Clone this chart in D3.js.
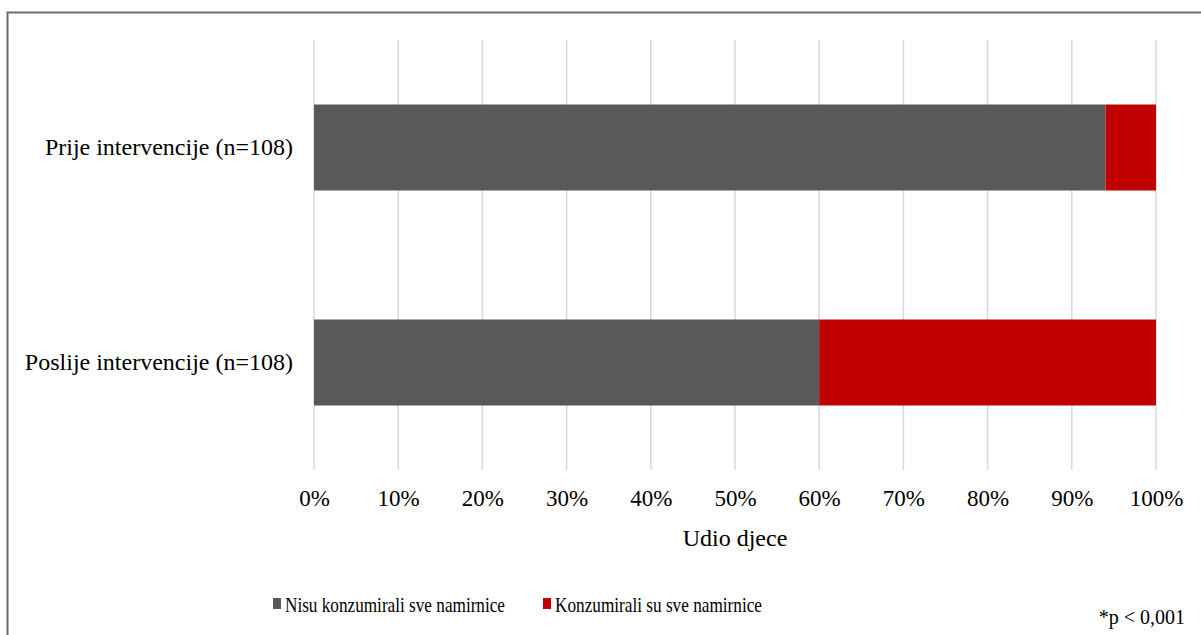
<!DOCTYPE html>
<html>
<head>
<meta charset="utf-8">
<script src="https://cdn.jsdelivr.net/npm/d3@7"></script>
<style>
  html, body { margin: 0; padding: 0; background: #fff; }
  svg { display: block; }
  text { font-family: "Liberation Serif", "Times New Roman", serif; fill: #000; }
</style>
</head>
<body>
<svg id="chart" width="1201" height="635"></svg>
<script>
const categories = ["Prije intervencije (n=108)", "Poslije intervencije (n=108)"];
const seriesNames = ["Nisu konzumirali sve namirnice", "Konzumirali su sve namirnice"];
const notConsumed = [0.94, 0.60];
const consumed = [0.06, 0.40];
const tickValues = [0, 0.1, 0.2, 0.3, 0.4, 0.5, 0.6, 0.7, 0.8, 0.9, 1.0];
const colors = ["#595959", "#c00000"];
const axisTitle = "Udio djece";
const note = "*p < 0,001";

const svg = d3.select("#chart");
const serif = "'Liberation Serif', 'Times New Roman', serif";

// outer border (only top/left visible in frame)
svg.append("rect")
  .attr("x", 7.5).attr("y", 12.5)
  .attr("width", 1300).attr("height", 700)
  .attr("fill", "none").attr("stroke", "#6b6b6b").attr("stroke-width", 2);

const margin = { left: 314, right: 1156, top: 40, bottom: 470 };
const x = d3.scaleLinear().domain([0, 1]).range([margin.left, margin.right]);
const y = d3.scaleBand().domain(categories).range([margin.top, margin.bottom])
  .paddingInner(0.6).paddingOuter(0.3);

// gridlines
svg.append("g").selectAll("line").data(tickValues).join("line")
  .attr("x1", d => x(d)).attr("x2", d => x(d))
  .attr("y1", margin.top).attr("y2", margin.bottom)
  .attr("stroke", "#d9d9d9").attr("stroke-width", 1.5);

// stacked bars
const stackData = categories.map((c, i) => ({ cat: c, a: notConsumed[i], b: consumed[i] }));
const stack = d3.stack().keys(["a", "b"])(stackData);
svg.append("g").selectAll("g").data(stack).join("g")
  .attr("fill", (d, i) => colors[i])
  .selectAll("rect").data(d => d).join("rect")
  .attr("x", d => x(d[0]))
  .attr("width", d => x(d[1]) - x(d[0]))
  .attr("y", d => y(d.data.cat))
  .attr("height", y.bandwidth());

// x axis labels
const xAxis = d3.axisBottom(x).tickValues(tickValues).tickFormat(d3.format(".0%")).tickSize(0).tickPadding(0);
const gx = svg.append("g").attr("transform", `translate(0, ${margin.bottom + 20})`).call(xAxis);
gx.select(".domain").remove();
gx.selectAll("text").style("font-size", "23px").style("font-family", serif).attr("fill", "#000").attr("dy", "0.71em");

// y axis labels
const yAxis = d3.axisLeft(y).tickSize(0).tickPadding(0);
const gy = svg.append("g").attr("transform", `translate(${margin.left - 21}, 0)`).call(yAxis);
gy.select(".domain").remove();
gy.selectAll("text").style("font-size", "24px").style("font-family", serif).attr("fill", "#000").attr("dy", "0.32em");

// axis title
svg.append("text").attr("x", (margin.left + margin.right) / 2).attr("y", 538)
  .attr("dy", "0.35em")
  .attr("text-anchor", "middle").style("font-size", "24px").text(axisTitle);

// legend
const legendX = [273, 543];
const legendW = [220, 207];
const lg = svg.append("g").selectAll("g").data(seriesNames).join("g")
  .attr("transform", (d, i) => `translate(${legendX[i]}, 604)`);
lg.append("rect").attr("x", 0).attr("y", -6).attr("width", 8).attr("height", 11)
  .attr("fill", (d, i) => colors[i]);
lg.append("text").attr("x", 12).attr("y", 0).attr("dy", "0.35em")
  .style("font-size", "22px")
  .attr("textLength", (d, i) => legendW[i]).attr("lengthAdjust", "spacingAndGlyphs")
  .text(d => d);

svg.append("text").attr("x", 1185).attr("y", 617).attr("dy", "0.35em")
  .attr("text-anchor", "end").style("font-size", "20px").text(note);
</script>
</body>
</html>
